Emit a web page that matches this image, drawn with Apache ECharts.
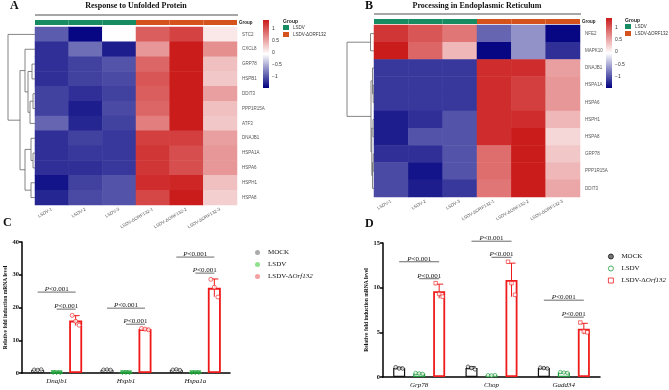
<!DOCTYPE html>
<html>
<head>
<meta charset="utf-8">
<script src="https://cdn.jsdelivr.net/npm/echarts@6/dist/echarts.min.js"></script>
<style>
  html, body { margin: 0; background: #fff; }
  #chart { width: 669px; height: 390px; }
</style>
</head>
<body>
<div id="chart"></div>
<script>
// ---- heatmaps (row z-scores) ----
var samples = ['LSDV-1', 'LSDV-2', 'LSDV-3', 'LSDV-ΔORF132-1', 'LSDV-ΔORF132-2', 'LSDV-ΔORF132-3']
var sampleGroups = ['LSDV', 'LSDV', 'LSDV', 'LSDV-ΔORF132', 'LSDV-ΔORF132', 'LSDV-ΔORF132']
var groupNames = ['LSDV', 'LSDV-ΔORF132']

var genesA = ['STC2', 'CXCL8', 'GRP78', 'HSPB1', 'DDIT3', 'PPP1R15A', 'ATF3', 'DNAJB1', 'HSPA1A', 'HSPA6', 'HSPH1', 'HSPA8']
var zA = [
  [-0.95, -1.42, -0.05, 0.95, 1.12, 0.1],
  [-1.2, -0.85, -1.3, 0.6, 1.36, 0.65],
  [-1.2, -1.1, -1.0, 0.9, 1.36, 0.35],
  [-1.2, -1.1, -1.05, 1.0, 1.36, 0.3],
  [-1.1, -1.2, -1.1, 0.95, 1.36, 0.55],
  [-1.1, -1.3, -1.05, 0.9, 1.36, 0.35],
  [-0.9, -1.25, -1.1, 0.75, 1.36, 0.3],
  [-1.2, -1.1, -1.15, 1.15, 1.15, 0.55],
  [-1.2, -1.15, -1.15, 1.2, 1.05, 0.6],
  [-1.2, -1.2, -1.15, 1.2, 1.05, 0.6],
  [-1.35, -1.1, -1.0, 1.25, 1.3, 0.35],
  [-1.25, -1.05, -1.0, 1.1, 1.36, 0.25]
]
// dendrogram: [height, left, right], leaves = row index
var treeA = [27, 0, [15, [10, 1, [7, [3, 2, 3], [5, [2, 4, 5], 6]]], [10, [4, 7, [2, 8, 9]], [4, 10, 11]]]]

var genesB = ['NFE2', 'MAPK10', 'DNAJB1', 'HSPA1A', 'HSPA6', 'HSPH1', 'HSPA8', 'GRP78', 'PPP1R15A', 'DDIT3']
var zB = [
  [1.2, 1.0, 0.8, -0.9, -0.65, -1.42],
  [1.36, 0.9, 0.4, -1.42, -0.65, -1.2],
  [-1.15, -1.15, -1.15, 1.25, 1.25, 0.55],
  [-1.15, -1.15, -1.15, 1.25, 1.15, 0.6],
  [-1.15, -1.15, -1.15, 1.25, 1.15, 0.6],
  [-1.3, -1.2, -1.0, 1.25, 1.25, 0.4],
  [-1.3, -1.0, -1.0, 1.25, 1.36, 0.2],
  [-1.2, -1.2, -1.0, 0.85, 1.36, 0.3],
  [-1.05, -1.35, -1.0, 0.85, 1.36, 0.4],
  [-1.05, -1.3, -1.15, 0.8, 1.36, 0.5]
]
var treeB = [27, [3.5, 0, 1], [3, [1.5, 2, [0.8, 3, 4]], [2.2, [1, 5, 6], [1.5, [0.8, 7, 8], 9]]]]

var zMin = -1.46
var zMax = 1.37
var colorbarTicks = [-1, -0.5, 0, 0.5, 1]

// ---- qPCR bar charts (3 replicates each) ----
var barGroups = ['MOCK', 'LSDV', 'LSDV-ΔOrf132']

var genesC = ['Dnajb1', 'Hspb1', 'Hspa1a']
var mockC = [[1.0, 0.92, 1.08], [1.0, 1.05, 0.95], [1.0, 1.1, 0.9]]
var lsdvC = [[0.12, 0.08, 0.1], [0.1, 0.12, 0.08], [0.1, 0.09, 0.11]]
var delC = [[17.6, 15.8, 14.6], [13.6, 13.4, 13.2], [28.6, 26.2, 23.2]]
// [category, fromGroup, toGroup, y]
var sigC = [[0, 0, 2, 24.7], [0, 1, 2, 19.5], [1, 0, 2, 19.8], [1, 1, 2, 14.9], [2, 0, 2, 35.4], [2, 1, 2, 30.5]]

var genesD = ['Grp78', 'Chop', 'Gadd34']
var mockD = [[1.1, 0.95, 0.95], [1.15, 1.0, 0.85], [1.05, 1.0, 0.95]]
var lsdvD = [[0.45, 0.4, 0.35], [0.2, 0.18, 0.22], [0.55, 0.5, 0.45]]
var delD = [[10.5, 9.3, 9.0], [12.9, 10.5, 9.2], [6.1, 5.1, 5.0]]
var sigD = [[0, 0, 2, 12.9], [0, 1, 2, 11.0], [1, 0, 2, 15.2], [1, 1, 2, 13.4], [2, 0, 2, 8.6], [2, 1, 2, 6.7]]

var serif = 'Liberation Serif'
var sans = 'Liberation Sans'
var navy = '#000080'
var fire = '#CB1A1A'
var groupColor = { 'LSDV': '#178B62', 'LSDV-ΔORF132': '#D6521C' }

var grids = [], xAxes = [], yAxes = [], series = [], heatSeries = []

function heatData(z) {
  var out = []
  z.forEach(function (row, r) {
    row.forEach(function (v, c) { out.push([c, r, v]) })
  })
  return out
}

function treeLinks(node, links) {
  if (typeof node === 'number') return { h: 0, y: node }
  var a = treeLinks(node[1], links)
  var b = treeLinks(node[2], links)
  links.push([a.h, a.y, node[0], b.y, b.h])
  return { h: node[0], y: (a.y + b.y) / 2 }
}

function addGrid(grid, xAxis, yAxis) {
  var i = grids.length
  grids.push(grid)
  xAxis.gridIndex = i
  yAxis.gridIndex = i
  xAxes.push(xAxis)
  yAxes.push(yAxis)
  return i
}

function hidden(ax) { ax.show = false; return ax }

function addHeatPanel(p) {
  // heatmap body
  var g = addGrid({ left: p.left, top: p.top, width: p.width, height: p.height },
    { type: 'category', data: samples, axisLine: { show: false }, axisTick: { show: false },
      axisLabel: { interval: 0, rotate: 30, fontSize: 4.5, fontFamily: sans, color: '#555', margin: 4 } },
    { type: 'category', data: p.genes, inverse: true, position: 'right', axisLine: { show: false }, axisTick: { show: false },
      axisLabel: { interval: 0, fontSize: 4.5, fontFamily: sans, color: '#555', margin: 5 } })
  heatSeries.push(series.length)
  series.push({ type: 'heatmap', xAxisIndex: g, yAxisIndex: g, data: heatData(p.z), silent: true })

  // group annotation bar
  g = addGrid({ left: p.left, top: p.barTop, width: p.width, height: 5 },
    hidden({ type: 'category', data: samples }),
    hidden({ type: 'value', min: 0, max: 1 }))
  series.push({
    type: 'bar', xAxisIndex: g, yAxisIndex: g, barCategoryGap: '0%', silent: true,
    data: sampleGroups.map(function (s) { return { value: 1, itemStyle: { color: groupColor[s] } } })
  })

  // dendrogram
  var links = []
  treeLinks(p.tree, links)
  g = addGrid({ left: p.left - p.dendWidth, top: p.top, width: p.dendWidth, height: p.height },
    hidden({ type: 'value', min: 0, max: p.dendWidth, inverse: true }),
    hidden({ type: 'value', min: -0.5, max: p.genes.length - 0.5, inverse: true }))
  series.push({
    type: 'custom', xAxisIndex: g, yAxisIndex: g, data: links, silent: true,
    renderItem: function (params, api) {
      var p1 = api.coord([api.value(0), api.value(1)])
      var p2 = api.coord([api.value(2), api.value(1)])
      var p3 = api.coord([api.value(2), api.value(3)])
      var p4 = api.coord([api.value(4), api.value(3)])
      return { type: 'polyline', shape: { points: [p1, p2, p3, p4] }, style: { stroke: '#666', lineWidth: 0.8, fill: null } }
    }
  })

  // colour key
  g = addGrid({ left: p.cbLeft, top: p.cbTop, width: 6, height: p.cbHeight },
    hidden({ type: 'value', min: 0, max: 1 }),
    { type: 'value', min: zMin, max: zMax, position: 'right', splitLine: { show: false },
      axisLine: { show: false }, axisTick: { show: false },
      axisLabel: { customValues: colorbarTicks, fontSize: 5, fontFamily: sans, color: '#333', margin: 3,
        formatter: function (v) { return v < 0 ? '\u2212' + Math.abs(v) : String(v) } } })
  series.push({
    type: 'custom', xAxisIndex: g, yAxisIndex: g, data: [[0, 0]], silent: true,
    renderItem: function (params, api) {
      var a = api.coord([0, zMax]), b = api.coord([1, zMin])
      return {
        type: 'rect', shape: { x: a[0], y: a[1], width: b[0] - a[0], height: b[1] - a[1] },
        style: { fill: new echarts.graphic.LinearGradient(0, 0, 0, 1, [
          { offset: 0, color: fire }, { offset: 0.5, color: '#ffffff' }, { offset: 1, color: navy }]) }
      }
    }
  })
}

function mean(a) { return a.reduce(function (s, v) { return s + v }, 0) / a.length }
function sd(a) {
  var m = mean(a)
  return Math.sqrt(a.reduce(function (s, v) { return s + (v - m) * (v - m) }, 0) / (a.length - 1))
}

function addBarPanel(p) {
  var g = addGrid({ left: p.left, top: p.top, width: p.width, height: p.height },
    { type: 'category', data: p.cats, axisLine: { lineStyle: { color: '#000', width: 1.5 } }, axisTick: { show: false },
      axisLabel: { fontFamily: serif, fontStyle: 'italic', fontSize: 7, color: '#111', margin: 5 } },
    { type: 'value', min: 0, max: p.max, interval: p.interval, splitLine: { show: false },
      axisLine: { show: true, lineStyle: { color: '#000', width: 1.5 } },
      axisTick: { show: true, length: 3, lineStyle: { color: '#000', width: 1.5 } },
      axisLabel: { fontFamily: serif, fontWeight: 'bold', fontSize: 6.5, color: '#111', margin: 3 },
      name: 'Relative fold induction mRNA level', nameLocation: 'middle', nameGap: p.nameGap,
      nameTextStyle: { fontFamily: serif, fontWeight: 'bold', fontSize: 5.5, color: '#111' } })
  var step = p.barWidth + p.gap
  var offs = [-step, 0, step]
  var jitter = [-3.5, 0, 3.5]

  p.reps.forEach(function (reps, gi) {
    var st = p.styles[gi]
    series.push({
      type: 'bar', name: barGroups[gi], xAxisIndex: g, yAxisIndex: g, silent: true,
      barWidth: p.barWidth, barGap: (p.gap / p.barWidth * 100) + '%',
      data: reps.map(mean),
      itemStyle: { color: 'rgba(255,255,255,0)', borderColor: st.color, borderWidth: st.barBorder }
    })
    series.push({
      type: 'custom', xAxisIndex: g, yAxisIndex: g, silent: true, encode: { x: 0, y: 1 },
      data: reps.map(function (r, ci) { return [ci, mean(r), sd(r)] }),
      renderItem: function (params, api) {
        var m = api.value(1), s = api.value(2)
        var top = api.coord([api.value(0), m + s])
        var bot = api.coord([api.value(0), Math.max(m - s, 0)])
        var x = top[0] + offs[gi]
        var ls = { stroke: st.color, lineWidth: 1 }
        return { type: 'group', children: [
          { type: 'line', shape: { x1: x, y1: top[1], x2: x, y2: bot[1] }, style: ls },
          { type: 'line', shape: { x1: x - 4, y1: top[1], x2: x + 4, y2: top[1] }, style: ls }
        ] }
      }
    })
    var pts = []
    reps.forEach(function (r, ci) {
      r.forEach(function (v, k) {
        pts.push({ value: [ci, v], symbolOffset: [offs[gi] + jitter[k], 0] })
      })
    })
    series.push({
      type: 'scatter', name: barGroups[gi], xAxisIndex: g, yAxisIndex: g, silent: true,
      symbol: st.symbol, symbolRotate: st.rotate || 0, symbolSize: st.size, data: pts,
      itemStyle: { color: st.fill, borderColor: st.color, borderWidth: 0.8 }
    })
  })

  series.push({
    type: 'custom', xAxisIndex: g, yAxisIndex: g, silent: true, encode: { x: 0, y: 3 },
    data: p.sig,
    renderItem: function (params, api) {
      var c = api.coord([api.value(0), api.value(3)])
      var x1 = c[0] + offs[api.value(1)], x2 = c[0] + offs[api.value(2)]
      return { type: 'group', children: [
        { type: 'line', shape: { x1: x1, y1: c[1], x2: x2, y2: c[1] }, style: { stroke: '#444', lineWidth: 0.8 } },
        { type: 'text', x: (x1 + x2) / 2, y: c[1] + 0.5,
          style: { text: '{i|P}<0.001', fontFamily: serif, fontSize: 7, fill: '#111', align: 'center', verticalAlign: 'bottom',
            rich: { i: { fontFamily: serif, fontSize: 7, fontStyle: 'italic', color: '#111' } } } }
      ] }
    }
  })
}

addHeatPanel({ left: 35, top: 27, width: 202, height: 178, barTop: 20, genes: genesA, z: zA, tree: treeA,
  dendWidth: 30, cbLeft: 263, cbTop: 20, cbHeight: 68 })
addHeatPanel({ left: 374, top: 25, width: 206, height: 172, barTop: 19, genes: genesB, z: zB, tree: treeB,
  dendWidth: 29, cbLeft: 606, cbTop: 18, cbHeight: 70 })

addBarPanel({ left: 22, top: 242, width: 208, height: 131, cats: genesC, max: 40, interval: 10, nameGap: 13,
  barWidth: 13, gap: 6, reps: [mockC, lsdvC, delC], sig: sigC,
  styles: [
    { color: '#222', barBorder: 1, symbol: 'circle', size: 3.5, fill: '#fff' },
    { color: '#1FA23A', barBorder: 1, symbol: 'triangle', rotate: 180, size: 4, fill: '#1FA23A' },
    { color: '#F01818', barBorder: 1.8, symbol: 'circle', size: 4, fill: '#fff' }
  ] })
addBarPanel({ left: 383, top: 243, width: 217, height: 134, cats: genesD, max: 15, interval: 5, nameGap: 13,
  barWidth: 12, gap: 8, reps: [mockD, lsdvD, delD], sig: sigD,
  styles: [
    { color: '#111', barBorder: 1.2, symbol: 'circle', size: 3.5, fill: '#fff' },
    { color: '#1E9A3A', barBorder: 1.2, symbol: 'circle', size: 3.5, fill: '#fff' },
    { color: '#EE1C1C', barBorder: 1.8, symbol: 'rect', size: 3.5, fill: '#fff' }
  ] })

function legendOf(left, top, icons) {
  return {
    left: left, top: top, orient: 'vertical', itemGap: 5, itemWidth: 5, itemHeight: 5, selectedMode: false,
    data: barGroups.map(function (n, i) { return { name: n, icon: icons[i].icon, itemStyle: icons[i].style } }),
    formatter: function (n) { return n === 'LSDV-ΔOrf132' ? 'LSDV-Δ{i|Orf132}' : n },
    textStyle: { fontFamily: serif, fontSize: 7, color: '#111', padding: [0, 0, 0, 3],
      rich: { i: { fontFamily: serif, fontSize: 7, fontStyle: 'italic', color: '#111' } } }
  }
}

function groupKey(x, y) {
  return [
    { type: 'text', left: x, top: y, style: { text: 'Group', fontFamily: sans, fontWeight: 'bold', fontSize: 5, fill: '#222' } },
    { type: 'rect', left: x, top: y + 6, shape: { width: 6, height: 5 }, style: { fill: groupColor[groupNames[0]] } },
    { type: 'text', left: x + 10, top: y + 6.5, style: { text: groupNames[0], fontFamily: sans, fontSize: 4.5, fill: '#333' } },
    { type: 'rect', left: x, top: y + 13, shape: { width: 6, height: 5 }, style: { fill: groupColor[groupNames[1]] } },
    { type: 'text', left: x + 10, top: y + 13.5, style: { text: groupNames[1], fontFamily: sans, fontSize: 4.5, fill: '#333' } }
  ]
}

function label(x, y, t) {
  return { type: 'text', left: x, top: y, style: { text: t, fontFamily: serif, fontWeight: 'bold', fontSize: 12, fill: '#111' } }
}

var graphics = [
  label(10, 0, 'A'), label(365, 0, 'B'), label(3, 217, 'C'), label(365, 218, 'D'),
  { type: 'text', x: 136, y: 2, style: { text: 'Response to Unfolded Protein', fontFamily: serif, fontWeight: 'bold', fontSize: 8, fill: '#111', align: 'center' } },
  { type: 'text', x: 477, y: 2, style: { text: 'Processing in Endoplasmic Reticulum', fontFamily: serif, fontWeight: 'bold', fontSize: 8, fill: '#111', align: 'center' } },
  { type: 'line', shape: { x1: 35, y1: 15, x2: 238, y2: 15 }, style: { stroke: '#222', lineWidth: 0.8 } },
  { type: 'line', shape: { x1: 374, y1: 14, x2: 581, y2: 14 }, style: { stroke: '#222', lineWidth: 0.8 } },
  { type: 'text', left: 239, top: 20, style: { text: 'Group', fontFamily: sans, fontWeight: 'bold', fontSize: 4.5, fill: '#222' } },
  { type: 'text', left: 582, top: 19, style: { text: 'Group', fontFamily: sans, fontWeight: 'bold', fontSize: 4.5, fill: '#222' } }
].concat(groupKey(283, 19), groupKey(625, 18))

var chart = echarts.init(document.getElementById('chart'))
chart.setOption({
  animation: false,
  grid: grids,
  xAxis: xAxes,
  yAxis: yAxes,
  visualMap: {
    type: 'continuous', show: false, min: zMin, max: zMax, seriesIndex: heatSeries,
    inRange: { color: [navy, '#ffffff', fire] }
  },
  legend: [
    legendOf(250, 244, [
      { icon: 'circle', style: { color: '#aaa', borderWidth: 0 } },
      { icon: 'circle', style: { color: '#8fe08f', borderWidth: 0 } },
      { icon: 'circle', style: { color: '#f5a0a0', borderWidth: 0 } }
    ]),
    legendOf(603, 248, [
      { icon: 'circle', style: { color: '#777', borderColor: '#111', borderWidth: 0.8 } },
      { icon: 'circle', style: { color: '#fff', borderColor: '#1E9A3A', borderWidth: 0.8 } },
      { icon: 'rect', style: { color: '#fff', borderColor: '#EE1C1C', borderWidth: 0.8 } }
    ])
  ],
  graphic: graphics,
  series: series
})
</script>
</body>
</html>
